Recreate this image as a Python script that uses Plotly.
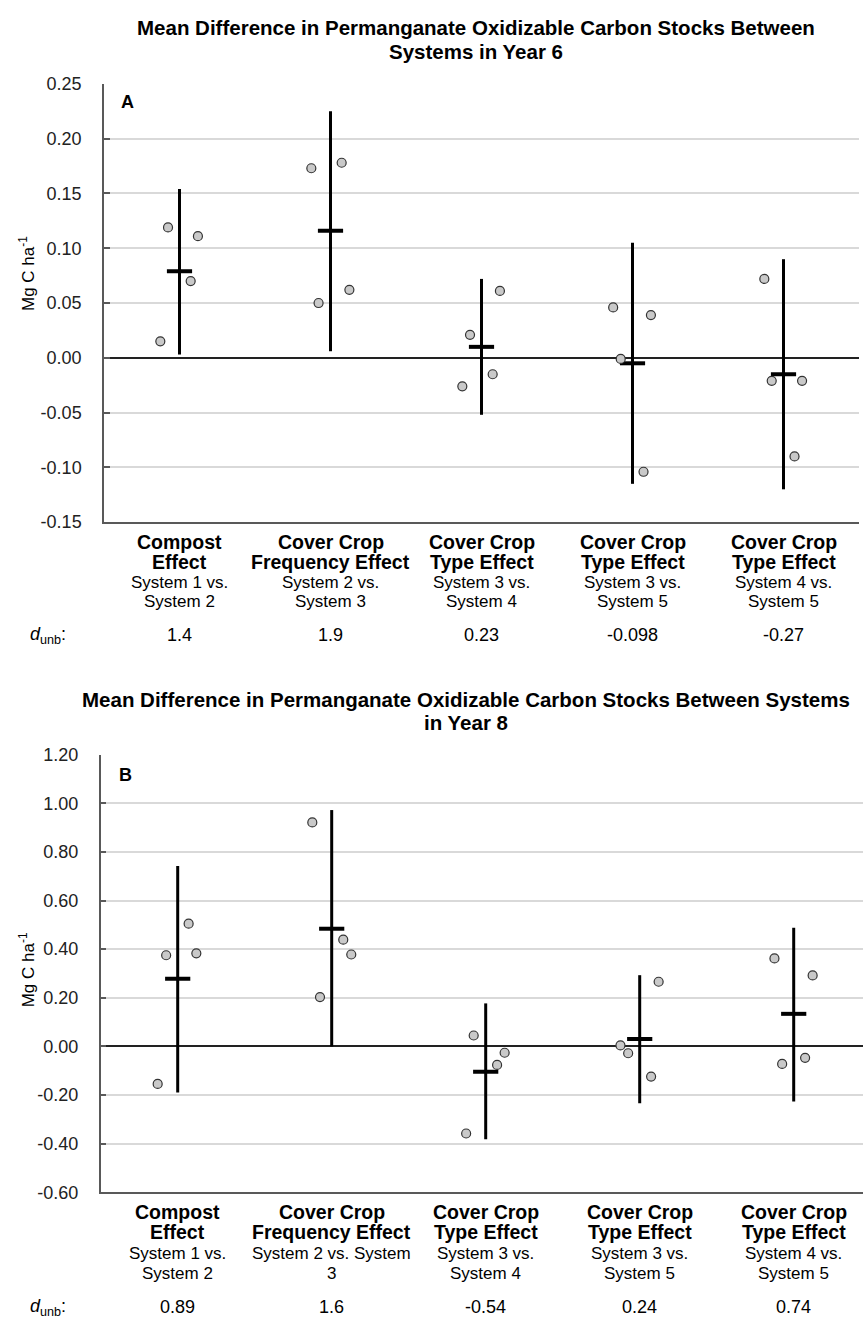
import plotly.graph_objects as go

W, H = 863, 1329
FONT = "Liberation Sans, Arial, sans-serif"

# ---------------- data ----------------
cat_names = [["Compost", "Effect"], ["Cover Crop", "Frequency Effect"], ["Cover Crop", "Type Effect"],
             ["Cover Crop", "Type Effect"], ["Cover Crop", "Type Effect"]]
cmp_A = [["System 1 vs.", "System 2"], ["System 2 vs.", "System 3"], ["System 3 vs.", "System 4"],
         ["System 3 vs.", "System 5"], ["System 4 vs.", "System 5"]]
cmp_B = [["System 1 vs.", "System 2"], ["System 2 vs. System", "3"], ["System 3 vs.", "System 4"],
         ["System 3 vs.", "System 5"], ["System 4 vs.", "System 5"]]

# Year 6 (panel A)
mean_A = [0.079, 0.116, 0.010, -0.005, -0.015]
lo_A = [0.003, 0.006, -0.052, -0.115, -0.120]
hi_A = [0.154, 0.225, 0.072, 0.105, 0.090]
pts_A = [[0.119, 0.111, 0.070, 0.015],
         [0.173, 0.178, 0.050, 0.062],
         [0.021, 0.061, -0.015, -0.026],
         [0.046, 0.039, -0.001, -0.104],
         [0.072, -0.021, -0.021, -0.090]]
jit_A = [[-0.076, 0.122, 0.074, -0.127],
         [-0.127, 0.074, -0.079, 0.125],
         [-0.076, 0.122, 0.074, -0.127],
         [-0.128, 0.122, -0.078, 0.073],
         [-0.127, -0.078, 0.123, 0.073]]
d_A = ["1.4", "1.9", "0.23", "-0.098", "-0.27"]
ticks_A = [-0.15, -0.10, -0.05, 0.00, 0.05, 0.10, 0.15, 0.20, 0.25]
ticktext_A = ["-0.15", "-0.10", "-0.05", "0.00", "0.05", "0.10", "0.15", "0.20", "0.25"]

# Year 8 (panel B)
mean_B = [0.278, 0.484, -0.104, 0.031, 0.134]
lo_B = [-0.189, 0.000, -0.382, -0.234, -0.226]
hi_B = [0.742, 0.972, 0.177, 0.293, 0.488]
pts_B = [[0.505, 0.375, 0.383, -0.154],
         [0.921, 0.439, 0.378, 0.203],
         [0.045, -0.026, -0.076, -0.358],
         [0.004, -0.028, -0.124, 0.266],
         [0.362, 0.292, -0.072, -0.047]]
jit_B = [[0.071, -0.075, 0.121, -0.130],
         [-0.126, 0.075, 0.127, -0.076],
         [-0.078, 0.123, 0.074, -0.127],
         [-0.125, -0.075, 0.074, 0.123],
         [-0.125, 0.123, -0.075, 0.074]]
d_B = ["0.89", "1.6", "-0.54", "0.24", "0.74"]
ticks_B = [-0.6, -0.4, -0.2, 0.0, 0.2, 0.4, 0.6, 0.8, 1.0, 1.2]
ticktext_B = ["-0.60", "-0.40", "-0.20", "0.00", "0.20", "0.40", "0.60", "0.80", "1.00", "1.20"]

title_A = ["Mean Difference in Permanganate Oxidizable Carbon Stocks Between", "Systems in Year 6"]
title_B = ["Mean Difference in Permanganate Oxidizable Carbon Stocks Between Systems", "in Year 8"]

# ---------------- layout helpers ----------------
def py(p):
    return 1 - p / H

fig = go.Figure()

def add_panel(xa, ya, means, lo, hi, pts, jit):
    xs, ys = [], []
    for i, (vals, js) in enumerate(zip(pts, jit)):
        for v, j in zip(vals, js):
            xs.append(i + j)
            ys.append(v)
    idx = list(range(len(means)))
    fig.add_trace(go.Scatter(
        x=idx, y=means, mode="markers", xaxis=xa, yaxis=ya, showlegend=False,
        marker=dict(symbol="line-ew", size=18, color="black", line=dict(width=4, color="black")),
        error_y=dict(type="data", symmetric=False,
                     array=[h - m for h, m in zip(hi, means)],
                     arrayminus=[m - l for m, l in zip(means, lo)],
                     color="black", thickness=3, width=0)))
    fig.add_trace(go.Scatter(
        x=xs, y=ys, mode="markers", xaxis=xa, yaxis=ya, showlegend=False,
        marker=dict(symbol="circle", size=9, color="#c9c9c9",
                    line=dict(width=1.2, color="#333333"))))

add_panel("x", "y", mean_A, lo_A, hi_A, pts_A, jit_A)
add_panel("x2", "y2", mean_B, lo_B, hi_B, pts_B, jit_B)

axis_common = dict(showgrid=True, gridcolor="#d9d9d9", gridwidth=1.5,
                   showline=True, linecolor="#595959", linewidth=1.5,
                   ticks="inside", ticklen=6, tickwidth=1.5, tickcolor="#595959",
                   zeroline=True, zerolinecolor="#222222", zerolinewidth=1.5,
                   tickfont=dict(family=FONT, size=18, color="#222"),
                   ticklabelstandoff=17)

fig.update_layout(
    width=W, height=H, margin=dict(l=0, r=0, t=0, b=0),
    paper_bgcolor="white", plot_bgcolor="white",
    font=dict(family=FONT, color="black"),
    xaxis=dict(domain=[104 / W, 859 / W], range=[-0.5, 4.5], anchor="y",
               showgrid=False, showticklabels=False, showline=True,
               linecolor="#595959", linewidth=1.5, zeroline=False),
    yaxis=dict(domain=[py(520), py(75)], range=[-0.15, 0.25], anchor="x",
               tickmode="array", tickvals=ticks_A, ticktext=ticktext_A, **axis_common),
    xaxis2=dict(domain=[100.7 / W, 1.0], range=[-0.5, 4.45], anchor="y2",
                showgrid=False, showticklabels=False, showline=True,
                linecolor="#595959", linewidth=1.5, zeroline=False),
    yaxis2=dict(domain=[py(1200.4), py(756)], range=[-0.6, 1.2], anchor="x2",
                tickmode="array", tickvals=ticks_B, ticktext=ticktext_B, **axis_common),
)

ann = []

def text_at(text, x, ypx, size, xref="paper", xanchor="center", bold=False, angle=0):
    ann.append(dict(text=("<b>%s</b>" % text) if bold else text, x=x, y=py(ypx),
                    xref=xref, yref="paper", xanchor=xanchor, yanchor="middle",
                    showarrow=False, textangle=angle, font=dict(size=size, family=FONT, color="black")))

# titles
text_at(title_A[0], 476 / W, 18, 20.5, bold=True)
text_at(title_A[1], 476 / W, 42, 20.5, bold=True)
text_at(title_B[0], 466 / W, 700, 20.5, bold=True)
text_at(title_B[1], 466 / W, 723, 20.5, bold=True)
# panel letters
text_at("A", 119 / W, 93, 18, xanchor="left", bold=True)
text_at("B", 117 / W, 777, 18, xanchor="left", bold=True)
# y titles
text_at("Mg C ha<sup>-1</sup>", 27 / W, 268, 17, angle=-90)
text_at("Mg C ha<sup>-1</sup>", 27 / W, 975, 17, angle=-90)

def cat_labels(xref, cmps, ds, yb, ys, yd):
    for i in range(5):
        for k, line in enumerate(cat_names[i]):
            text_at(line, i, yb[k], 19.5, xref=xref, bold=True)
        for k, line in enumerate(cmps[i]):
            text_at(line, i, ys[k], 17, xref=xref)
        text_at(ds[i], i, yd, 18, xref=xref)
    text_at("<i>d</i><sub>unb</sub>:", 28 / W, yd, 18, xanchor="left")

cat_labels("x", cmp_A, d_A, [540, 560], [581, 601], 635)
cat_labels("x2", cmp_B, d_B, [1220, 1241], [1263, 1283], 1317)

fig.update_layout(annotations=ann)
fig.write_html("out.html", config={"displayModeBar": False},
               post_script="document.body.style.margin='0';")
